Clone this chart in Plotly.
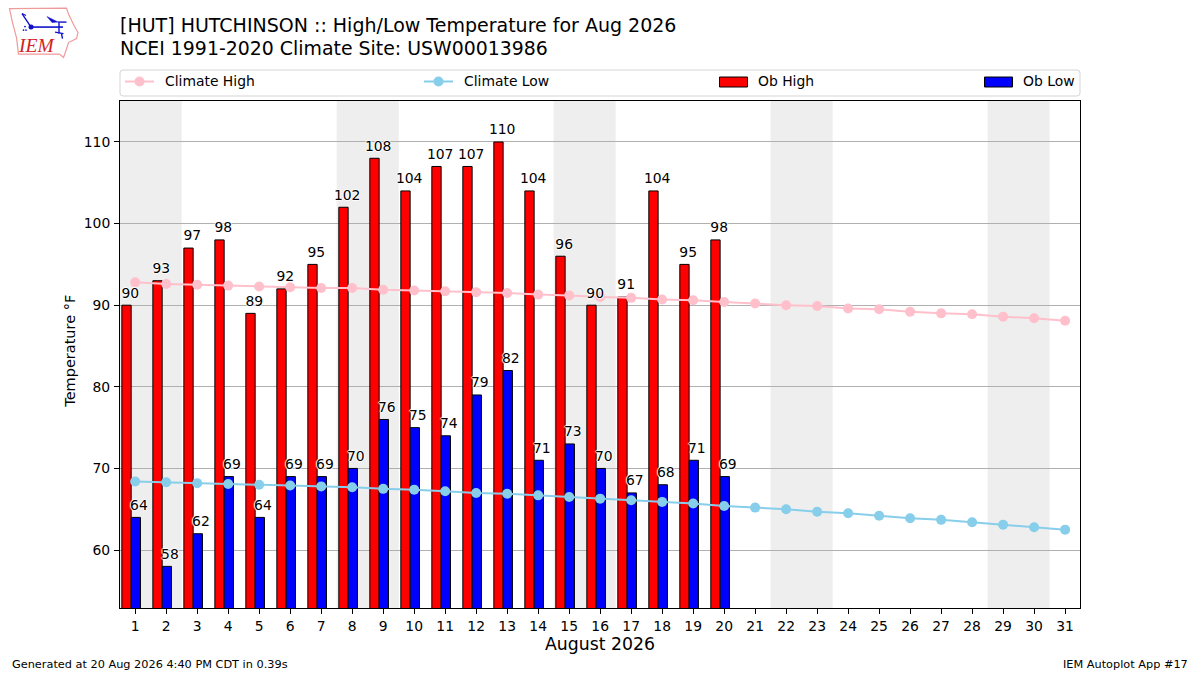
import plotly.graph_objects as go

FONT = "DejaVu Sans"

days = list(range(1, 32))
tick_temps = [60, 70, 80, 90, 100, 110]
weekend_starts = [1, 8, 15, 22, 29]

ob_days = list(range(1, 21))
ob_high = [90, 93, 97, 98, 89, 92, 95, 102, 108, 104, 107, 107, 110, 104, 96, 90, 91, 104, 95, 98]
ob_low = [64, 58, 62, 69, 64, 69, 69, 70, 76, 75, 74, 79, 82, 71, 73, 70, 67, 68, 71, 69]

climate_high = [92.8, 92.6, 92.5, 92.4, 92.3, 92.2, 92.1, 92.1, 91.9, 91.8, 91.7, 91.6, 91.5, 91.3, 91.2, 91.0,
                90.9, 90.7, 90.6, 90.4, 90.2, 90.0, 89.9, 89.6, 89.5, 89.2, 89.0, 88.9, 88.6, 88.4, 88.1]
climate_low = [68.4, 68.3, 68.2, 68.1, 68.0, 67.9, 67.8, 67.7, 67.5, 67.4, 67.2, 67.0, 66.9, 66.7, 66.5, 66.3,
               66.1, 65.9, 65.7, 65.4, 65.2, 65.0, 64.7, 64.5, 64.2, 63.9, 63.7, 63.4, 63.1, 62.8, 62.5]

# plot area in window pixels, everything outside it is placed from these
LEFT, RIGHT, TOP, BOTTOM = 120, 1080, 100.5, 608


def px(x):
    return (x - LEFT) / (RIGHT - LEFT)


def py(y):
    return (BOTTOM - y) / (BOTTOM - TOP)


def label(text, x, y, size, xanchor="left", yanchor="middle", color="black", family=FONT, angle=0):
    return dict(text=text, x=px(x), y=py(y), xref="paper", yref="paper", showarrow=False,
                xanchor=xanchor, yanchor=yanchor, textangle=angle,
                font=dict(family=family, size=size, color=color), xshift=0, yshift=0,
                borderpad=0, borderwidth=0)


def line(x0, y0, x1, y1, color, width=1.5):
    return dict(type="line", x0=px(x0), y0=py(y0), x1=px(x1), y1=py(y1), xref="paper", yref="paper",
                layer="above", line=dict(color=color, width=width))


def poly(points, color, width=1.0, fill=None, close=True):
    path = "M " + " L ".join(f"{px(x):.5f},{py(y):.5f}" for x, y in points) + (" Z" if close else "")
    return dict(type="path", path=path, xref="paper", yref="paper", layer="above",
                line=dict(color=color, width=width), fillcolor=fill or "rgba(0,0,0,0)")


halo = "1px 0 1px white, -1px 0 1px white, 0 1px 1px white, 0 -1px 1px white"

fig = go.Figure()
fig.add_trace(go.Bar(x=ob_days, y=ob_high, width=0.3, offset=-0.43, name="Ob High",
                     marker=dict(color="#ff0000", line=dict(color="black", width=1))))
fig.add_trace(go.Bar(x=ob_days, y=ob_low, width=0.3, offset=-0.13, name="Ob Low",
                     marker=dict(color="#0000ff", line=dict(color="black", width=1))))
fig.add_trace(go.Scatter(x=days, y=climate_high, mode="lines+markers", name="Climate High",
                         line=dict(color="#ffc0cb", width=2), marker=dict(color="#ffc0cb", size=10)))
fig.add_trace(go.Scatter(x=days, y=climate_low, mode="lines+markers", name="Climate Low",
                         line=dict(color="#87ceeb", width=2), marker=dict(color="#87ceeb", size=10)))
# invisible markers lift the value labels clear of the bar tops
fig.add_trace(go.Scatter(x=[d - 0.16 for d in ob_days], y=ob_high, mode="markers+text", text=ob_high,
                         textposition="top center", cliponaxis=False, marker=dict(size=5, opacity=0),
                         textfont=dict(family=FONT, size=13.9, color="black", shadow=halo)))
fig.add_trace(go.Scatter(x=[d + 0.12 for d in ob_days], y=ob_low, mode="markers+text", text=ob_low,
                         textposition="top center", cliponaxis=False, marker=dict(size=5, opacity=0),
                         textfont=dict(family=FONT, size=13.9, color="black", shadow=halo)))

shapes = []
for start in weekend_starts:
    shapes.append(dict(type="rect", x0=start - 0.5, x1=start + 1.5, y0=0, y1=1, xref="x", yref="paper",
                       layer="below", line=dict(width=0), fillcolor="#eeeeee"))

# legend box and keys
shapes.append(dict(type="path", xref="paper", yref="paper", layer="above",
                   path="M {},{} L {},{} Q {},{} {},{} L {},{} Q {},{} {},{} L {},{} Q {},{} {},{} L {},{} Q {},{} {},{} Z".format(
                       px(123), py(69.5), px(1077), py(69.5), px(1080), py(69.5), px(1080), py(72.5),
                       px(1080), py(92.5), px(1080), py(95.5), px(1077), py(95.5),
                       px(123), py(95.5), px(120), py(95.5), px(120), py(92.5),
                       px(120), py(72.5), px(120), py(69.5), px(123), py(69.5)),
                   line=dict(color="#d5d5d5", width=1), fillcolor="white"))
shapes.append(line(125, 81, 154, 81, "#ffc0cb", 2))
shapes.append(dict(type="circle", xref="paper", yref="paper", layer="above", x0=px(134.5), x1=px(144.5),
                   y0=py(86), y1=py(76), line=dict(width=0), fillcolor="#ffc0cb"))
shapes.append(line(424, 81, 453, 81, "#87ceeb", 2))
shapes.append(dict(type="circle", xref="paper", yref="paper", layer="above", x0=px(433.5), x1=px(443.5),
                   y0=py(86), y1=py(76), line=dict(width=0), fillcolor="#87ceeb"))
shapes.append(dict(type="rect", xref="paper", yref="paper", layer="above", x0=px(719.5), x1=px(747.5),
                   y0=py(86.5), y1=py(76.5), line=dict(color="black", width=1), fillcolor="#ff0000"))
shapes.append(dict(type="rect", xref="paper", yref="paper", layer="above", x0=px(984.5), x1=px(1012.5),
                   y0=py(86.5), y1=py(76.5), line=dict(color="black", width=1), fillcolor="#0000ff"))

# IEM logo, outline of Iowa with a station plot
outline = [(9.5, 8), (66.5, 7.5), (68.5, 13.5), (74, 25), (78, 32), (76.5, 38), (68.5, 42), (66, 50),
           (63.5, 57), (59.5, 53.5), (18.5, 53.5), (16.5, 37), (12.5, 22)]
shapes.append(poly(outline, "#f09a9a", 1.2))
shapes.append(line(31, 26.5, 63, 26.5, "#1111cc", 1.6))
shapes.append(line(31, 26.5, 22, 13, "#1111cc", 1.4))
shapes.append(line(22, 13, 26, 15, "#1111cc", 1.2))
shapes.append(line(59, 22, 59, 33, "#1111cc", 1.4))
shapes.append(line(55, 31.5, 63.5, 33, "#1111cc", 1.4))
shapes.append(line(61.5, 33, 62.5, 38, "#1111cc", 1.4))
shapes.append(line(58, 21.5, 66.5, 21.5, "#1111cc", 1.4))
shapes.append(poly([(47, 16), (58, 21.5), (52, 22)], "#1111cc", 0.5, "#1111cc"))
shapes.append(dict(type="circle", xref="paper", yref="paper", layer="above", x0=px(28.5), x1=px(33.5),
                   y0=py(29), y1=py(24), line=dict(width=0), fillcolor="#1111cc"))
for dx, dy in [(23.5, 29.5), (26, 29.5), (25, 26)]:
    shapes.append(dict(type="circle", xref="paper", yref="paper", layer="above", x0=px(dx - 0.9), x1=px(dx + 0.9),
                       y0=py(dy + 0.9), y1=py(dy - 0.9), line=dict(width=0), fillcolor="#1111cc"))

annotations = [
    label("[HUT] HUTCHINSON :: High/Low Temperature for Aug 2026", 120, 24.5, 19),
    label("NCEI 1991-2020 Climate Site: USW00013986", 120, 47, 18.9),
    label("Climate High", 164.5, 80.5, 13.9),
    label("Climate Low", 463.5, 80.5, 13.9),
    label("Ob High", 758, 80.5, 13.9),
    label("Ob Low", 1022.5, 80.5, 13.9),
    label("August 2026", 600, 644.5, 17.3, xanchor="center"),
    label("Temperature °F", 70, 351.5, 14.5, xanchor="center", angle=-90),
    label("Generated at 20 Aug 2026 4:40 PM CDT in 0.39s", 12, 665, 11.3),
    label("IEM Autoplot App #17", 1188, 665, 11.3, xanchor="right"),
    label("<i>IEM</i>", 36.5, 45, 19.5, xanchor="center", color="#d22222", family="Liberation Serif"),
]

fig.update_layout(
    width=1200,
    height=675,
    autosize=False,
    margin=dict(l=LEFT, r=1200 - RIGHT, t=TOP, b=675 - BOTTOM, pad=0),
    paper_bgcolor="white",
    plot_bgcolor="white",
    barmode="overlay",
    showlegend=False,
    font=dict(family=FONT, size=13.9, color="black"),
    shapes=shapes,
    annotations=annotations,
    xaxis=dict(range=[0.51, 31.48], tickmode="array", tickvals=days, ticks="outside", ticklen=5, tickwidth=1,
               tickcolor="black", showgrid=False, zeroline=False, showline=True, mirror=True,
               linecolor="black", linewidth=1, tickangle=0, tickfont=dict(family=FONT, size=13.9)),
    yaxis=dict(range=[52.9, 115.02], tickmode="array", tickvals=tick_temps, ticks="outside", ticklen=5, tickwidth=1,
               tickcolor="black", showgrid=True, gridcolor="#b0b0b0", gridwidth=1, zeroline=False, showline=True,
               mirror=True, linecolor="black", linewidth=1, tickfont=dict(family=FONT, size=13.9),
               ticklabelstandoff=1),
)

fig.write_html("out.html", config={"displayModeBar": False}, post_script="document.body.style.margin='0'")
